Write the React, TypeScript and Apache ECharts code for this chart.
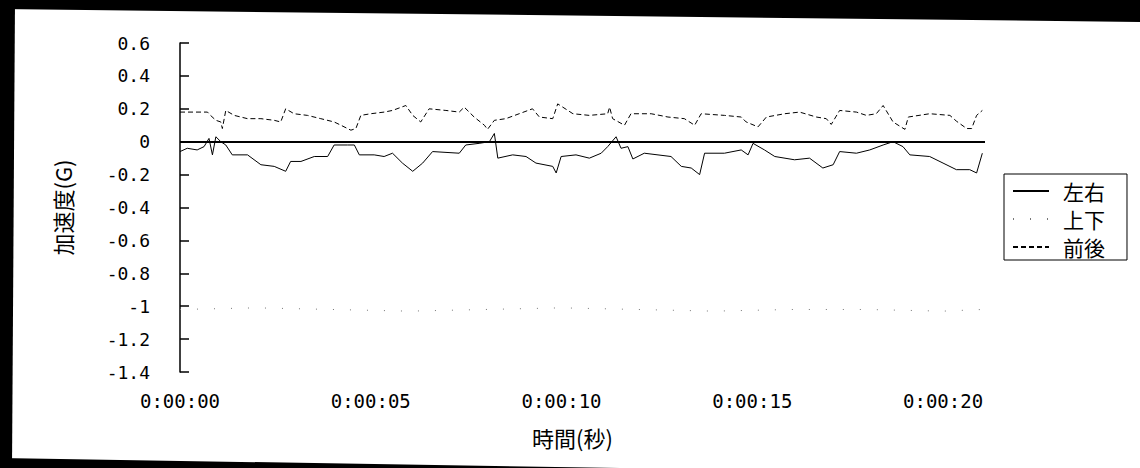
import React, { useEffect, useRef } from "react";
import * as echarts from "echarts";

// Time (s) and acceleration (G)
const leftRightT = [0,0.19,0.45,0.63,0.76,0.85,0.94,1.07,1.2,1.37,1.77,2.12,2.47,2.77,2.9,3.17,3.52,3.87,4.04,4.39,4.57,4.7,5.09,5.35,5.57,5.83,6.1,6.36,6.62,7.32,7.49,7.84,8.11,8.24,8.33,8.72,9.07,9.33,9.77,9.86,9.99,10.38,10.73,11.04,11.21,11.43,11.56,11.74,11.87,12.17,12.87,13.14,13.4,13.62,13.75,14.27,14.71,14.89,15.02,15.32,15.59,16.11,16.5,16.85,17.12,17.29,17.73,18.08,18.43,18.69,18.95,19.13,19.65,20.0,20.35,20.7,20.88,21.03];
const leftRightV = [-0.06,-0.04,-0.05,-0.03,0.02,-0.08,0.03,0.0,-0.02,-0.08,-0.08,-0.14,-0.15,-0.18,-0.12,-0.12,-0.09,-0.09,-0.02,-0.02,-0.02,-0.08,-0.08,-0.09,-0.07,-0.13,-0.18,-0.13,-0.06,-0.07,-0.02,-0.01,0.0,0.05,-0.1,-0.08,-0.09,-0.13,-0.15,-0.19,-0.09,-0.08,-0.1,-0.07,-0.03,0.03,-0.04,-0.03,-0.105,-0.07,-0.09,-0.15,-0.16,-0.2,-0.07,-0.07,-0.05,-0.08,-0.01,-0.05,-0.09,-0.11,-0.1,-0.16,-0.14,-0.06,-0.07,-0.05,-0.02,0.0,-0.03,-0.08,-0.09,-0.13,-0.17,-0.17,-0.19,-0.07];

const upDownT = [0,2,4,6,8,10,12,14,16,18,20,21.03];
const upDownV = [-1.02,-1.01,-1.02,-1.03,-1.02,-1.01,-1.02,-1.03,-1.02,-1.02,-1.03,-1.02];

const frontBackT = [0,0.37,0.72,0.8,0.94,1.07,1.11,1.2,1.42,1.77,2.12,2.47,2.64,2.77,2.99,3.34,3.69,4.04,4.22,4.39,4.48,4.61,4.74,5.0,5.35,5.57,5.92,6.1,6.31,6.53,6.97,7.32,7.45,7.71,7.98,8.06,8.24,8.54,8.89,9.24,9.42,9.77,9.9,10.3,10.73,11.21,11.26,11.34,11.65,11.82,12.35,12.79,13.22,13.49,13.66,14.27,14.71,14.84,15.15,15.37,15.85,16.24,16.68,16.94,17.07,17.29,17.73,17.99,18.25,18.43,18.69,19.0,19.09,19.65,20.18,20.35,20.62,20.75,20.88,21.03];
const frontBackV = [0.18,0.18,0.18,0.16,0.13,0.12,0.08,0.19,0.16,0.14,0.14,0.13,0.12,0.2,0.17,0.16,0.14,0.12,0.1,0.08,0.07,0.08,0.16,0.17,0.18,0.19,0.22,0.16,0.12,0.2,0.19,0.18,0.21,0.15,0.1,0.075,0.13,0.14,0.17,0.2,0.15,0.14,0.23,0.17,0.16,0.17,0.21,0.14,0.1,0.17,0.17,0.15,0.14,0.1,0.17,0.16,0.15,0.12,0.09,0.15,0.17,0.18,0.15,0.14,0.105,0.19,0.18,0.16,0.17,0.22,0.12,0.075,0.15,0.17,0.16,0.125,0.08,0.08,0.16,0.19];

const seriesNames = ["左右", "上下", "前後"];
const xTickLabels = ["0:00:00", "0:00:05", "0:00:10", "0:00:15", "0:00:20"];
const xTickValues = [0, 5, 10, 15, 20];

const pair = (t: number[], v: number[]) => t.map((x, i) => [x, v[i]]);

export default function App() {
  const ref = useRef<HTMLDivElement>(null);
  useEffect(() => {
    if (!ref.current) return;
    const chart = echarts.init(ref.current, undefined, { renderer: "svg" });
    const numFont = "'DejaVu Sans Mono', monospace";
    const cjkFont = "'Noto Sans CJK JP', sans-serif";
    chart.setOption({
      animation: false,
      backgroundColor: "#fff",
      grid: { left: 180, right: 155, top: 43, bottom: 96 },
      legend: {
        orient: "vertical",
        left: 1004,
        top: 174,
        padding: [5, 22, 1, 8],
        itemGap: 4,
        itemWidth: 36,
        itemHeight: 14,
        borderColor: "#000",
        borderWidth: 1,
        backgroundColor: "#fff",
        itemStyle: { opacity: 0 },
        data: seriesNames,
        textStyle: {
          fontFamily: cjkFont,
          fontSize: 21,
          color: "#000",
          lineHeight: 24,
          padding: [0, 0, 0, 9],
        },
      },
      xAxis: {
        type: "value",
        min: 0,
        max: 21.1,
        interval: 5,
        name: "時間(秒)",
        nameLocation: "middle",
        nameGap: 54,
        nameTextStyle: { fontFamily: cjkFont, fontSize: 22, color: "#000", padding: [0, 20, 0, 0] },
        axisLine: { show: false, onZero: false },
        axisTick: { show: false },
        splitLine: { show: false },
        axisLabel: {
          margin: 19,
          fontFamily: numFont,
          fontSize: 19,
          color: "#000",
          formatter: (v: number) => {
            const i = xTickValues.indexOf(Math.round(v * 100) / 100);
            return i >= 0 ? xTickLabels[i] : "";
          },
        },
      },
      yAxis: {
        type: "value",
        min: -1.4,
        max: 0.6,
        interval: 0.2,
        name: "加速度(G)",
        nameLocation: "middle",
        nameGap: 107,
        nameRotate: 90,
        nameTextStyle: { fontFamily: cjkFont, fontSize: 22, color: "#000" },
        axisLine: { show: true, onZero: false, lineStyle: { color: "#000", width: 1.5 } },
        axisTick: { show: true, inside: true, length: 9, lineStyle: { color: "#000", width: 1.5 } },
        splitLine: { show: false },
        axisLabel: {
          margin: 30,
          fontFamily: numFont,
          fontSize: 18,
          color: "#000",
          formatter: (v: number) => {
            const r = Math.round(v * 10) / 10;
            return r === 0 ? "0" : String(r);
          },
        },
      },
      series: [
        {
          name: seriesNames[0],
          type: "line",
          symbol: "none",
          data: pair(leftRightT, leftRightV),
          lineStyle: { color: "#000", width: 1, type: "solid" },
          itemStyle: { color: "#000" },
          markLine: {
            silent: true,
            symbol: ["none", "none"],
            label: { show: false },
            lineStyle: { color: "#000", width: 2, type: "solid" },
            data: [{ yAxis: 0 }],
          },
        },
        {
          name: seriesNames[1],
          type: "line",
          symbol: "none",
          data: pair(upDownT, upDownV),
          lineStyle: { color: "#777", width: 1, type: [1, 16] },
          itemStyle: { color: "#777" },
        },
        {
          name: seriesNames[2],
          type: "line",
          symbol: "none",
          data: pair(frontBackT, frontBackV),
          lineStyle: { color: "#000", width: 1, type: [5, 3] },
          itemStyle: { color: "#000" },
        },
      ],
      graphic: [
        { type: "polygon", silent: true, z: 100, shape: { points: [[0, 0], [1140, 0], [1140, 22], [0, 9]] }, style: { fill: "#000" } },
        { type: "polygon", silent: true, z: 100, shape: { points: [[0, 0], [15, 0], [12, 468], [0, 468]] }, style: { fill: "#000" } },
        { type: "polygon", silent: true, z: 100, shape: { points: [[0, 458], [620, 468], [0, 468]] }, style: { fill: "#000" } },
      ],
    });
    return () => chart.dispose();
  }, []);
  return (
    <div
      ref={ref}
      style={{ position: "fixed", left: 0, top: 0, width: 1140, height: 468, background: "#fff" }}
    />
  );
}
